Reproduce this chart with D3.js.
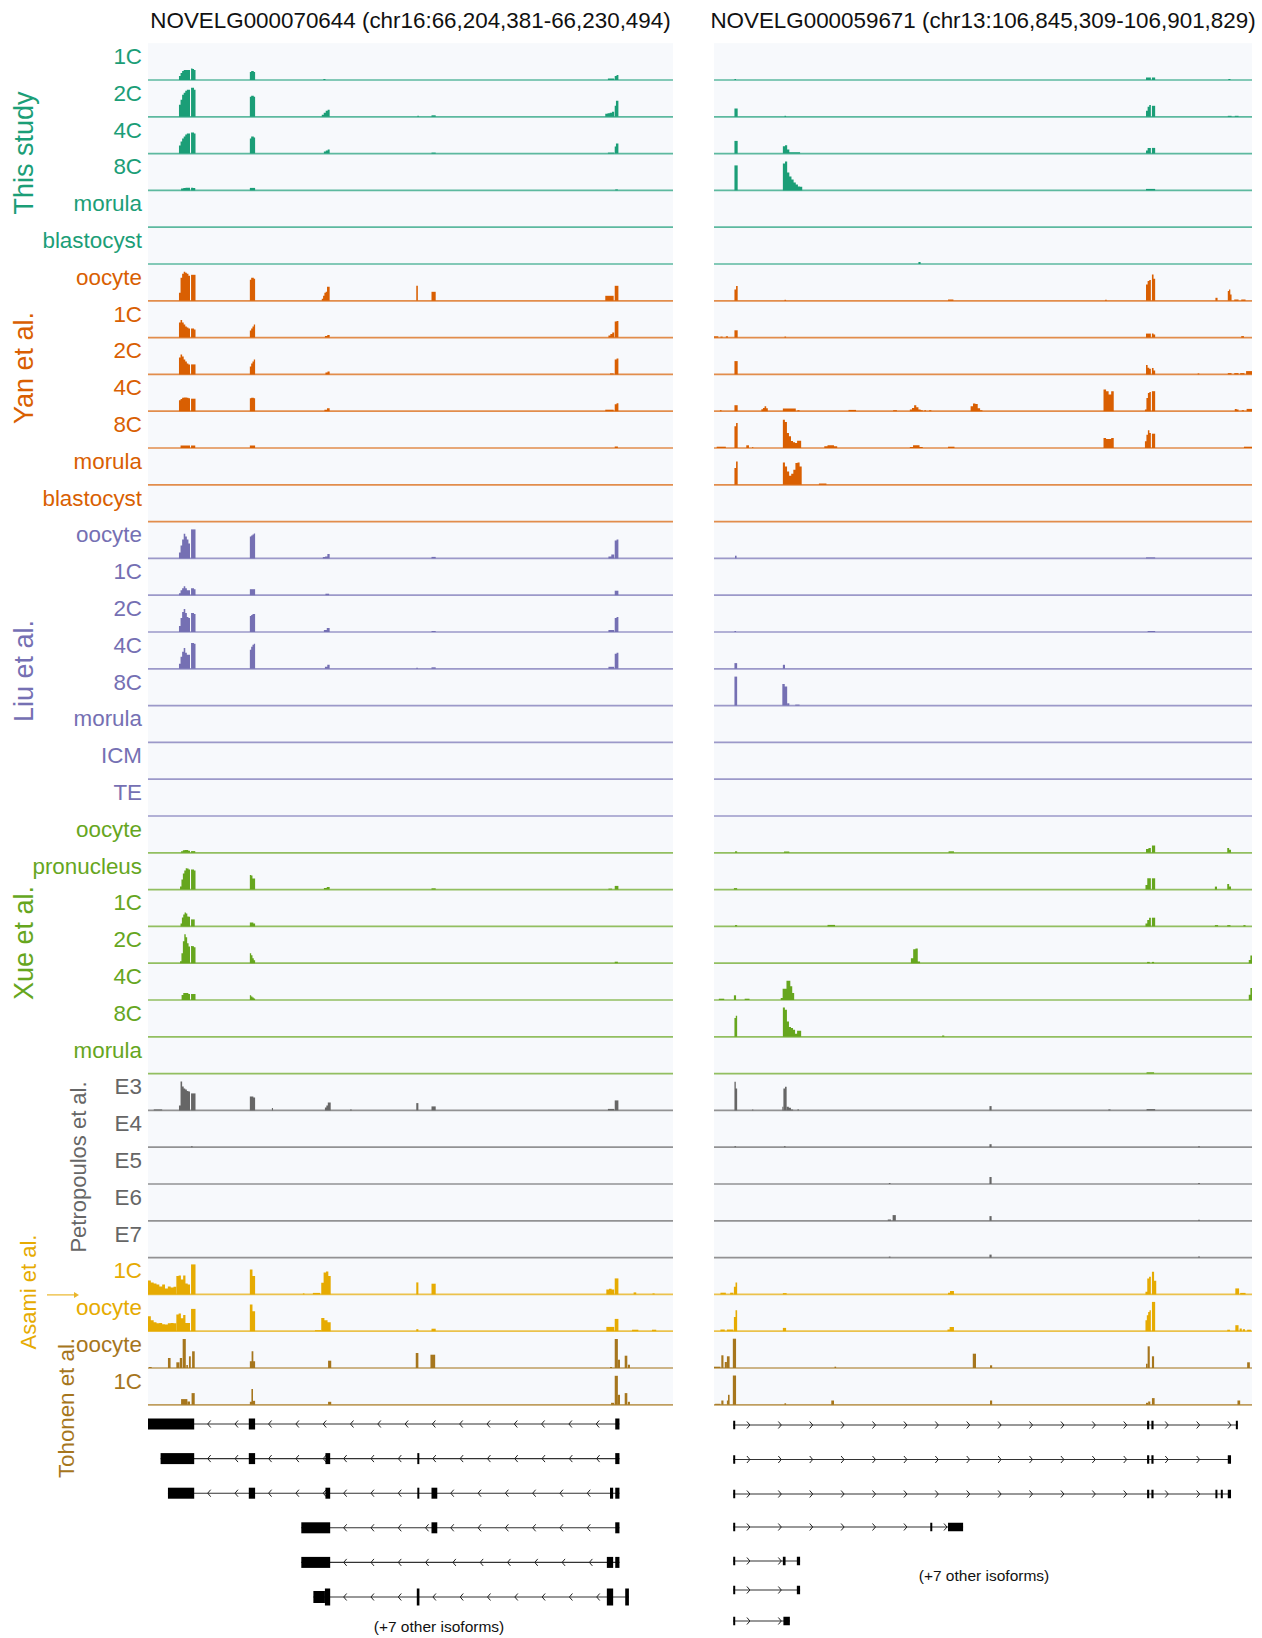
<!DOCTYPE html>
<html>
<head>
<meta charset="utf-8">
<script src="https://cdn.jsdelivr.net/npm/d3@7"></script>
<style>
  html, body { margin: 0; padding: 0; background: #fff; }
  svg { display: block; font-family: "Liberation Sans", Arial, Helvetica, sans-serif; }
</style>
</head>
<body>
<svg id="chart" width="1262" height="1638"></svg>
<script>
// ---------------- data ----------------
// Two loci shown side by side
const locusGenes  = ["NOVELG000070644", "NOVELG000059671"];
const locusChroms = ["chr16", "chr13"];
const locusStarts = [66204381, 106845309];
const locusEnds   = [66230494, 106901829];
const otherIsoforms = [7, 7];

// Datasets and their samples (track rows, top to bottom)
const groupNames = ["This study", "Yan et al.", "Liu et al.", "Xue et al.",
                    "Petropoulos et al.", "Asami et al.", "Tohonen et al."];
const groupStages = [
  ["1C", "2C", "4C", "8C", "morula", "blastocyst"],
  ["oocyte", "1C", "2C", "4C", "8C", "morula", "blastocyst"],
  ["oocyte", "1C", "2C", "4C", "8C", "morula", "ICM", "TE"],
  ["oocyte", "pronucleus", "1C", "2C", "4C", "8C", "morula"],
  ["E3", "E4", "E5", "E6", "E7"],
  ["1C", "oocyte"],
  ["oocyte", "1C"]
];

// Coverage blocks: [start, end, [coverage per bin]], positions in per-mille of the locus
const covThisStudyL = [
  [[59,80,[4,7,9,10,10,10,10]],[82,90.5,[11.5,11,10]],[194,204,[8,9,9,8]],[334,338,[1]],[876,888,[1.5]],[889,896,[4,5]]],
  [[59,80,[12,17,22,24,26,27,27]],[82,90.5,[29,29,27]],[194,204,[20,21,21,20]],[331,346,[2,4,6,7]],[513,516,[1]],[540,548,[1.5]],[871,888,[3,3.5,4,5]],[889,896,[11,16,16]]],
  [[59,80,[8,12,15,17,19,20,20]],[82,90.5,[21,21,20]],[194,204,[15,17,17,16]],[335,346,[2,3,4]],[540,548,[1]],[876,888,[1]],[889,896,[7,10,10]]],
  [[63,80,[2,2.5,2.7,2.7]],[82,90,[2.7,2.5]],[194,204,[2.5,2.5]],[890,895,[1]]],
  [],
  []
];
const covThisStudyR = [
  [[38,41,[1]],[803,812,[2.5]],[814,820,[2.5]],[956,960,[1]]],
  [[38,44,[8.3]],[131,134,[1]],[803,812,[6,10,11.7]],[814,820,[11,11]],[955,962,[1]],[968,975,[1]]],
  [[38,44,[12.7]],[128,160,[7.3,8.3,4,1.3,1.3,1.3,1.3,1.3]],[803,812,[3,5.7,5.7]],[814,820,[5.7]]],
  [[38,44,[25]],[128,164,[27,29,18,14,11,8,6,4,3.7]],[803,820,[1.5]]],
  [],
  [[380,384,[2]]]
];
const covYanL = [
  [[59,80,[8,23,27,29,28,27,25]],[82,90.5,[26,26,26]],[194,204,[21,23,23,22]],[331,346,[2,5,8,9,14,14]],[511,514,[15]],[540,548,[9,9,9]],[871,887,[5,5,5]],[889,896,[15,15]]],
  [[59,80,[15,17.7,15,13,11,10,9]],[82,90.5,[9,9,8]],[194,204,[7,9,11,13]],[337,346,[1.5,2.5]],[877,888,[2,3.5,5]],[889,896,[16,16.7]]],
  [[59,80,[17,20,18,15,13,11,10]],[82,90.5,[10,10,10]],[194,204,[8,11,13,15]],[338,346,[2,3]],[880,887,[1]],[889,896,[15,16]]],
  [[59,80,[11,12.3,13.5,13.7,13.7,13.5,13]],[82,90.5,[12.5,12.5,12.5]],[194,204,[13,13.5,13.5,13]],[336,346,[1.5,3]],[871,887,[1.5]],[889,896,[7,8]]],
  [[62,80,[2.5]],[82,90,[2.5]],[194,204,[2.5]],[889,895,[1.5]]],
  [],
  []
];
const covYanR = [
  [[38,44,[11.3,14.7]],[131,134,[1]],[435,445,[1.3]],[727,730,[1]],[803,812,[16.3,19.7,20.7]],[814,820,[26.3,22]],[932,936,[3]],[955,962,[9.7,11.3,6.3]],[967,975,[1.3]],[980,988,[1.3]]],
  [[0,8,[1.3]],[12,16,[1]],[22,26,[1.3]],[38,44,[7.3]],[131,134,[1]],[803,812,[4]],[814,820,[4,3]],[980,985,[1.5]]],
  [[38,44,[13.3]],[803,812,[9.3,6.7,5.7]],[814,820,[6.3,4]],[899,902,[1]],[955,962,[1.3]],[967,975,[1.3]],[978,986,[1.3]],[989,1000,[3.3]]],
  [[11,14,[1]],[38,44,[6]],[88,100,[2,3.3,5,3]],[128,152,[2.7]],[155,159,[1]],[250,264,[1.3]],[333,340,[1]],[364,388,[1.7,3.3,6,4,1.7,1]],[391,394,[1]],[400,404,[1]],[477,499,[5,7.7,7.3,3,1]],[724,743,[21.7,20,16.7,20]],[801,812,[1.7,13.3,18.3,19.3]],[814,820,[20,20]],[968,975,[2.3,1.7]],[981,985,[1]],[990,1000,[2.3]]],
  [[5,22,[1.3]],[38,44,[21.7,25]],[60,65,[2.7]],[71,73,[1]],[128,162,[28.3,26,15,11.7,7,5.7,5,7.3,7.3]],[205,229,[1.7,2.7,2.7,1.7]],[364,388,[1,2.7,2.7,1]],[435,447,[1.3]],[724,743,[10,9,9,10]],[801,812,[6.7,13.3,17.7,15]],[814,820,[14.3,14.3]],[985,1000,[1.3]]],
  [[38,44,[16.7,23.3]],[128,163,[22.3,18.3,13.3,9,11,15,21.7,22.3,18.3]],[195,209,[1.3]]],
  []
];
const covLiuL = [
  [[59,80,[6,13,19,24.7,22,19,15]],[82,90.5,[29,29,29]],[194,204,[22,23,24,25]],[333,346,[1.5,2,4.5]],[540,548,[1.5]],[877,888,[2,4]],[889,896,[18,19]]],
  [[59,80,[2,5,7,9,7,5,5]],[82,90.5,[7,7,6]],[194,204,[6]],[338,345,[1.5]],[889,896,[4.5]]],
  [[59,80,[6,14,20,23,19,15,14]],[82,90.5,[19,19,18]],[194,204,[16,17,18,18]],[335,346,[2,4]],[540,548,[1]],[877,888,[2]],[889,896,[14,15]]],
  [[59,80,[5,12,17,20.7,16,14,14]],[82,90.5,[25.7,25.7,25]],[194,204,[19,22,24,25]],[337,346,[2,4]],[511,514,[1]],[540,548,[1.5]],[877,888,[2]],[889,896,[15,16]]],
  [], [], [], []
];
const covLiuR = [
  [[39,42,[2.7]],[803,820,[1]]],
  [],
  [[38,41,[1]],[806,820,[1]]],
  [[38,43,[5.7]],[128,132,[4]]],
  [[38,43,[29]],[127,136,[21.7,19]],[136,140,[2.3]],[151,159,[1]]],
  [], [], []
];
const covXueL = [
  [[63,80,[1.5,2.5,2.7,2.7,2]],[82,90,[1.7]]],
  [[61,80,[3,10,16,19,21.3,21,20]],[82,90.5,[20,20,19]],[194,204,[14.7,14,11,11]],[335,346,[1.5,2.7]],[540,548,[1.3]],[877,884,[1]],[889,896,[3.7]]],
  [[62,80,[3,9,12,14,13,10,9.7]],[82,89,[7,7]],[194,204,[4,4,3]]],
  [[61,80,[2,10,22,29,26,20,16.7]],[82,90.5,[17.3,17,16]],[194,204,[10,8,5,3]],[889,895,[1.5]]],
  [[64,80,[5,7,7,7,6]],[82,90.5,[6,6,6]],[194,204,[4.7,3.5,2.5,1.5]]],
  [],
  []
];
const covXueR = [
  [[39,43,[1.5]],[130,140,[1.3]],[436,446,[1.5]],[803,812,[3.7,4.7]],[814,820,[7.3]],[954,961,[4.7,3]]],
  [[37,43,[1.5]],[802,812,[4.7,11.3,11.3]],[814,820,[11.3]],[931,935,[3]],[954,961,[5.7,3]]],
  [[39,43,[1.3]],[211,225,[1.5]],[802,812,[3,6.3,8.7]],[814,820,[8.7]],[931,937,[1.3]],[954,960,[1.3]],[984,988,[1.3]]],
  [[366,383,[5,14,14.7,1.7]],[805,810,[1.3]],[814,818,[1.3]],[994,1000,[3.3,7.7]]],
  [[9,19,[1.3]],[37,41,[4.7]],[57,66,[1.3]],[124,149,[2,11.3,11.3,19.3,19.3,13.7,7]],[994,1000,[5.3,12]]],
  [[38,43,[18.7,21]],[128,162,[29.3,27,15.3,9.7,8.7,7,3,6,6]],[424,428,[1.3]]],
  [[804,818,[1.3]]]
];
const covPetropoulosL = [
  [[11,27,[1]],[59,80,[5,29,24,22,21,19.5,19]],[82,90.5,[17,17,17]],[194,204,[14,14,13]],[236,238,[2.5]],[337,348,[3,5,8,8]],[385,388,[1]],[511,515,[7.3]],[540,548,[4]],[876,888,[1.5]],[889,896,[10,10]]],
  [[82,85,[1]]],
  [], [], []
];
const covPetropoulosR = [
  [[38,43,[28.7,22]],[71,73,[1]],[127,129,[3.7]],[129,135,[22,23.7]],[135,147,[3.7,2.7,1]],[155,158,[1]],[512,516,[4.3]],[733,737,[1]],[804,820,[1.3]]],
  [[38,41,[1]],[130,133,[1]],[512,516,[3]],[900,903,[1]]],
  [[325,328,[1]],[512,516,[7]],[900,903,[1]]],
  [[323,329,[1.3]],[332,338,[5.7]],[512,516,[4.7]],[900,903,[1]]],
  [[325,328,[1]],[512,516,[3]],[900,903,[1]]]
];
const covAsamiL = [
  [[0,54,[14,12,11,10,8,10,6,8,7,7.7]],[54,80,[18.3,19,15,19,11,10]],[82,90.5,[30,30]],[194,204,[25,25,18.3,18.3]],[295,298,[1]],[314,328,[1.5]],[330,348,[11.7,22,23,18.3]],[511,515,[12]],[540,548,[10.7]],[873,888,[5,5.7,5]],[889,896,[16,16]],[925,930,[2]],[961,965,[1]]],
  [[0,54,[15,11,9,8,8.3,7,6.7,8,8.3,8]],[54,80,[16.7,17.7,13,16.3,8.3,8.3]],[82,90.5,[22.3,22.3]],[194,204,[26.7,26.7,20,20]],[318,330,[1]],[330,348,[13.3,11,9]],[511,515,[2]],[540,548,[2.5]],[873,888,[4.3]],[889,896,[12.3]],[922,934,[1.5]],[960,968,[1.5]]]
];
const covAsamiR = [
  [[12,22,[1.7]],[30,36,[1.7]],[37,43,[7.7,12]],[128,135,[1.3]],[435,446,[1.7,3.3,3.3]],[802,812,[2.7,16,17.7]],[814,822,[22.7,13.7]],[969,976,[6]],[978,988,[1.5]]],
  [[12,20,[1.7]],[24,36,[1.7]],[37,43,[14.3,21]],[128,134,[3.3]],[434,446,[1.7,4.3,4.3]],[802,812,[11,16,19.3,21]],[814,820,[29.3]],[954,959,[1.5]],[969,975,[6]],[977,981,[2.7]],[983,987,[2]],[991,998,[1.5]]]
];
const covTohonenL = [
  [[2,7,[1]],[38,43,[10]],[54,60,[5.7]],[60.6,65,[10]],[66,72,[29]],[73,76,[3]],[78,81.5,[11.7]],[84,89,[16.7]],[194,204,[6.7,16.7,6.7]],[343,349,[7.3]],[510,515,[15]],[538,547,[13.3]],[880,884,[1]],[889,895,[29]],[895,899,[8.3]],[908,913,[12.3]],[914,918,[3.3]]],
  [[63,75,[5.7]],[75,80,[3.3]],[83,89,[11.7]],[194,200,[3,15.7]],[200,204,[4]],[343,349,[3]],[882,888,[2]],[889,895,[29]],[895,899,[10]],[908,913,[11.7]],[914,918,[3]]]
];
const covTohonenR = [
  [[0,12,[1.3]],[13.6,17.6,[12.7]],[20,24,[6]],[24,29,[11.7]],[35,41,[29.3]],[224,227,[1.3]],[481,487,[14.3]],[513,517,[2.7]],[803,806,[4.3]],[806,810,[21.7]],[814,818,[11.7]],[991,996,[5.7]]],
  [[2,12,[1]],[13.6,17.6,[4.3]],[24,26,[4.3]],[26,29,[10]],[35,41,[29.3]],[131,134,[1.5]],[218,223,[4.3]],[513,517,[4.3]],[803,807,[2]],[807,811,[3.3]],[814,819,[6.7]],[973,978,[4.3]]]
];

// Transcript models: exons [start, end, kind] in per-mille of each locus
const isoformStrands = ["-", "+"];
const leftIsoforms = [
  [[0,88],[192,204],[890,898]],
  [[24,88],[192,204],[338,347],[513,515],[890,898]],
  [[38,88],[192,204],[338,347],[513,515],[540,551],[880,886],[890,898]],
  [[292,347],[540,551],[890,898]],
  [[292,347],[874,886],[890,898]],
  [[315,337,"utr"],[337,347,"cds"],[512,517,"cds"],[874,886,"cds"],[909,916,"cds"]]
];
const rightIsoforms = [
  [[35.7,39],[805,809],[813,817],[970,972]],
  [[35.7,39],[805,809],[813,817],[955,961]],
  [[35.7,39],[805,809],[813,817],[932,934],[942,945],[955,961]],
  [[35.7,39],[402,404],[435,463]],
  [[35.7,39],[128,133],[154,160]],
  [[35.7,39],[154,160]],
  [[35.7,39],[129,141]]
];

// ---------------- layout & style ----------------
const groupColors = ["#1b9e77", "#d95f02", "#7570b3", "#66a61e", "#666666", "#e6ab02", "#a6761d"];
const PANELS = [{ x0: 148, x1: 673 }, { x0: 714, x1: 1252 }];
const FIRST_BASE = 80, ROW = 36.8;
const LABEL_RIGHT = 142;
// [baseline x, centre y, font size] of the rotated dataset names
const groupLabelPos = [[33,153,27],[33,368,27],[33,671,27],[33,943,27],[86,1167,22],[36,1292,22],[74,1408,22.3]];
const isoY = [[1424,1458.6,1493.2,1527.8,1562.4,1597],[1425,1459.5,1494,1527,1561,1590,1621]];
const noteY = [1632, 1581];
const noteX = [439, 984];

const covL = [covThisStudyL, covYanL, covLiuL, covXueL, covPetropoulosL, covAsamiL, covTohonenL];
const covR = [covThisStudyR, covYanR, covLiuR, covXueR, covPetropoulosR, covAsamiR, covTohonenR];

const rows = groupNames.flatMap((g, gi) =>
  groupStages[gi].map((s, si) => ({ gi, label: s, cov: [covL[gi][si], covR[gi][si]] })));

const svg = d3.select("#chart");
const xs = PANELS.map(p => d3.scaleLinear().domain([0, 1000]).range([p.x0, p.x1]));
const yCov = d3.scaleLinear().domain([0, 30]).range([0, 30]);
const nRows = rows.length;

// panel backgrounds
PANELS.forEach(p => {
  svg.append("rect")
    .attr("x", p.x0).attr("y", FIRST_BASE - ROW)
    .attr("width", p.x1 - p.x0).attr("height", ROW * nRows)
    .attr("fill", "#f7f9fc");
});

// titles
const fmt = d3.format(",");
PANELS.forEach((p, pi) => {
  svg.append("text")
    .attr("x", (p.x0 + p.x1) / 2).attr("y", 28)
    .attr("text-anchor", "middle")
    .attr("font-size", 22.4).attr("fill", "#111")
    .text(`${locusGenes[pi]} (${locusChroms[pi]}:${fmt(locusStarts[pi])}-${fmt(locusEnds[pi])})`);
});

// coverage tracks
rows.forEach((row, ri) => {
  const base = FIRST_BASE + ri * ROW;
  const color = groupColors[row.gi];
  const area = (sx) => d3.area()
    .x(d => sx(d[0])).y0(base).y1(d => base - yCov(d[1]))
    .curve(d3.curveStepAfter);
  [0, 1].forEach(pi => {
    const g = svg.append("g");
    row.cov[pi].forEach(([s, e, hs]) => {
      const w = (e - s) / hs.length;
      const pts = hs.map((h, i) => [s + i * w, h]);
      pts.push([e, hs[hs.length - 1]]);
      g.append("path").attr("d", area(xs[pi])(pts)).attr("fill", color);
    });
    g.append("line")
      .attr("x1", PANELS[pi].x0).attr("x2", PANELS[pi].x1)
      .attr("y1", base).attr("y2", base)
      .attr("stroke", color).attr("stroke-width", 1.7).attr("stroke-opacity", 0.7);
  });
  svg.append("text")
    .attr("x", LABEL_RIGHT).attr("y", base - 16)
    .attr("text-anchor", "end").attr("font-size", 22.4)
    .attr("fill", color).text(row.label);
});

// dataset names
groupNames.forEach((name, gi) => {
  const [gx, gy, fs] = groupLabelPos[gi];
  svg.append("text")
    .attr("transform", `translate(${gx},${gy}) rotate(-90)`)
    .attr("text-anchor", "middle").attr("font-size", fs)
    .attr("fill", groupColors[gi]).text(name);
});

// marker arrow next to the Asami et al. 1C track
{
  const ai = rows.findIndex(r => r.gi === 5);
  const ay = FIRST_BASE + ai * ROW + 0.5;
  svg.append("line").attr("x1", 47).attr("x2", 74).attr("y1", ay).attr("y2", ay)
    .attr("stroke", "#eab62a").attr("stroke-width", 1.2);
  svg.append("path").attr("d", `M74,${ay - 3}L79,${ay}L74,${ay + 3}Z`).attr("fill", "#eab62a");
}

// transcript models
const isoforms = [leftIsoforms, rightIsoforms];
const exonH = [11, 8.5];
const cdsH = 17;
const chevOffset = [14.5, 13.7], chevStep = [27.3, 31.4];
isoforms.forEach((models, pi) => {
  const sx = xs[pi];
  models.forEach((exons, k) => {
    const y = isoY[pi][k];
    const g = svg.append("g");
    const px = exons.map(([s, e, kind]) => [sx(s), Math.max(sx(e), sx(s) + 2), kind]);
    g.append("line")
      .attr("x1", px[0][0]).attr("x2", px[px.length - 1][1])
      .attr("y1", y).attr("y2", y)
      .attr("stroke", "#333").attr("stroke-width", 1.1);
    for (let i = 0; i < px.length - 1; i++) {
      const a = px[i][1], b = px[i + 1][0];
      for (let c = a + chevOffset[pi]; c < b; c += chevStep[pi]) {
        const d = isoformStrands[pi] === "-"
          ? `M${c + 2},${y - 3.5}L${c - 1},${y}L${c + 2},${y + 3.5}`
          : `M${c - 2},${y - 3.5}L${c + 1},${y}L${c - 2},${y + 3.5}`;
        g.append("path").attr("d", d).attr("fill", "none")
          .attr("stroke", "#222").attr("stroke-width", 1);
      }
    }
    px.forEach(([a, b, kind]) => {
      const h = kind === "cds" ? cdsH : (kind === "utr" ? 12 : exonH[pi]);
      g.append("rect").attr("x", a).attr("y", y - h / 2)
        .attr("width", b - a).attr("height", h).attr("fill", "#000");
    });
  });
  svg.append("text")
    .attr("x", noteX[pi]).attr("y", noteY[pi])
    .attr("text-anchor", "middle").attr("font-size", 15.5).attr("fill", "#111")
    .text(`(+${otherIsoforms[pi]} other isoforms)`);
});
</script>
</body>
</html>
